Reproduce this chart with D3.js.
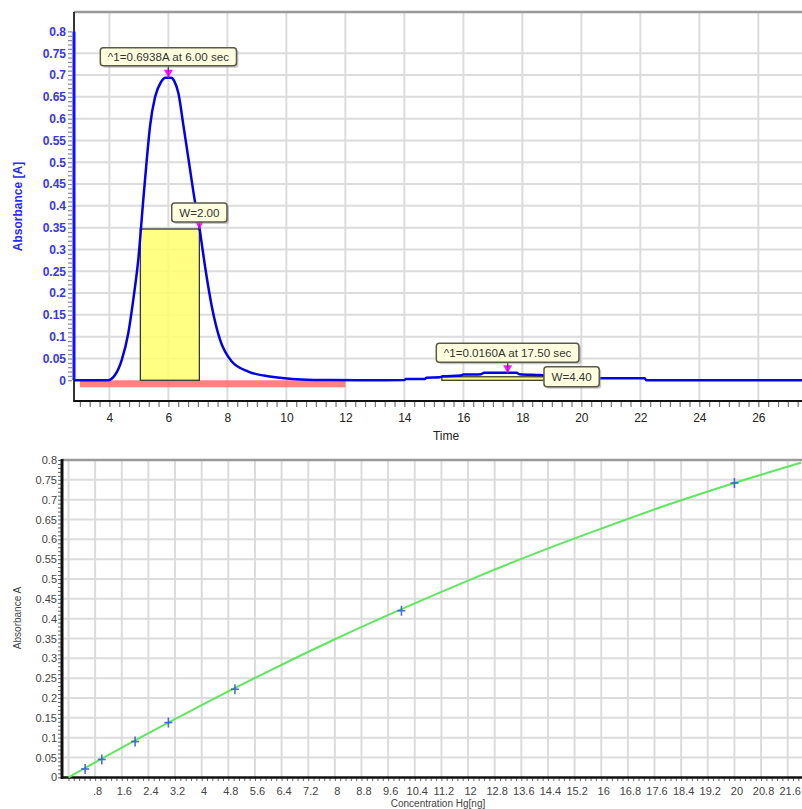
<!DOCTYPE html>
<html>
<head>
<meta charset="utf-8">
<script src="https://cdn.jsdelivr.net/npm/d3@7"></script>
<style>
  body { margin: 0; background: #fff; }
  svg { display: block; }
  text { font-family: "Liberation Sans", Arial, sans-serif; }
</style>
</head>
<body>
<svg id="chart" width="802" height="809"></svg>
<script>
// ---- Chromatogram trace (time in sec, absorbance in A) ----
const traceTime = [2.8, 3.95, 4.19, 4.42, 4.64, 4.81, 4.98, 5.15, 5.27, 5.38, 5.55, 5.75, 5.9, 6.1, 6.2,
  6.34, 6.51, 6.68, 6.85, 7.07, 7.24, 7.47, 7.75, 8.15, 8.71, 9.5, 10.5, 11.5, 13.0, 14.0, 14.05,
  14.7, 14.75, 15.2, 15.3, 15.9, 16.0, 16.6, 16.7, 17.8, 17.9, 18.6, 19.3, 20.0, 20.7, 22.15, 22.2, 27.5];
const traceAbs = [0, 0, 0.012, 0.047, 0.108, 0.185, 0.277, 0.415, 0.508, 0.584, 0.650, 0.684, 0.6938, 0.6938, 0.686,
  0.658, 0.584, 0.508, 0.431, 0.342, 0.262, 0.170, 0.093, 0.043, 0.020, 0.008, 0.002, 0.0005, 0, 0.0005, 0.003,
  0.003, 0.006, 0.007, 0.009, 0.011, 0.013, 0.014, 0.017, 0.017, 0.014, 0.012, 0.009, 0.006, 0.0045, 0.0045, 0, 0];

// Detected peaks
const peakTime = [6.00, 17.50];
const peakHeight = [0.6938, 0.0160];
const widthStart = [5.05, 15.27];
const peakWidth = [2.00, 4.40];
const baselineRange = [3, 12];

// Chromatogram tick labels
const timeTicks = [4, 6, 8, 10, 12, 14, 16, 18, 20, 22, 24, 26];
const absTicks = [0, 0.05, 0.1, 0.15, 0.2, 0.25, 0.3, 0.35, 0.4, 0.45, 0.5, 0.55, 0.6, 0.65, 0.7, 0.75, 0.8];
const absTickLabels = ["0", "0.05", "0.1", "0.15", "0.2", "0.25", "0.3", "0.35", "0.4", "0.45", "0.5",
  "0.55", "0.6", "0.65", "0.7", "0.75", "0.8"];

// ---- Calibration (concentration Hg in ng vs absorbance) ----
const stdConc = [0.5, 1, 2, 3, 5, 10, 20];
const stdAbs = [0.021, 0.045, 0.090, 0.138, 0.222, 0.420, 0.742];
const fitConc = [0, 2, 4, 6, 8, 10, 12, 14, 16, 18, 20, 22];
const fitAbs = [0, 0.093, 0.182, 0.267, 0.348, 0.424, 0.496, 0.564, 0.627, 0.687, 0.742, 0.793];

const concTicks = [0.8, 1.6, 2.4, 3.2, 4, 4.8, 5.6, 6.4, 7.2, 8, 8.8, 9.6, 10.4, 11.2, 12, 12.8, 13.6,
  14.4, 15.2, 16, 16.8, 17.6, 18.4, 19.2, 20, 20.8, 21.6];
const concTickLabels = [".8", "1.6", "2.4", "3.2", "4", "4.8", "5.6", "6.4", "7.2", "8", "8.8", "9.6",
  "10.4", "11.2", "12", "12.8", "13.6", "14.4", "15.2", "16", "16.8", "17.6", "18.4", "19.2", "20", "20.8", "21.6"];
const calAbsTicks = absTicks;
const calAbsTickLabels = absTickLabels;

const svg = d3.select("#chart");

// ================= Chromatogram =================
const xT = d3.scaleLinear().domain([2.8, 27.48]).range([74, 802]);
const yT = d3.scaleLinear().domain([-0.0475, 0.8445]).range([401, 12]);
const topG = svg.append("g");

// grid
topG.append("g").selectAll("line").data(timeTicks).join("line")
  .attr("x1", d => xT(d)).attr("x2", d => xT(d)).attr("y1", yT.range()[1]).attr("y2", yT.range()[0])
  .attr("stroke", "#dcdcdc").attr("stroke-width", 2);
topG.append("g").selectAll("line").data(absTicks.filter(d => d > 0 && d < 0.8)).join("line")
  .attr("x1", xT.range()[0]).attr("x2", xT.range()[1]).attr("y1", d => yT(d)).attr("y2", d => yT(d))
  .attr("stroke", "#dcdcdc").attr("stroke-width", 2);

// frame
topG.append("line").attr("x1", xT.range()[0]).attr("x2", xT.range()[1]).attr("y1", 12).attr("y2", 12)
  .attr("stroke", "#999").attr("stroke-width", 2.5);
topG.append("line").attr("x1", 74).attr("x2", 74).attr("y1", 12).attr("y2", 402)
  .attr("stroke", "#333").attr("stroke-width", 2);

// baseline band
topG.append("rect")
  .attr("x", xT(baselineRange[0])).attr("width", xT(baselineRange[1]) - xT(baselineRange[0]))
  .attr("y", yT(0)).attr("height", 7)
  .attr("fill", "#ff5e5e").attr("opacity", 0.78);

// width rectangles (half height)
topG.append("g").selectAll("rect").data(peakTime).join("rect")
  .attr("x", (d, i) => xT(widthStart[i]))
  .attr("width", (d, i) => xT(widthStart[i] + peakWidth[i]) - xT(widthStart[i]))
  .attr("y", (d, i) => yT(peakHeight[i] / 2))
  .attr("height", (d, i) => yT(0) - yT(peakHeight[i] / 2))
  .attr("fill", "#ffff6e").attr("fill-opacity", 0.85)
  .attr("stroke", "#3a3a2a").attr("stroke-width", 1.3);

// trace
const traceData = traceTime.map((t, i) => [t, traceAbs[i]]);
topG.append("path").datum(traceData)
  .attr("d", d3.line().x(d => xT(d[0])).y(d => yT(d[1])).curve(d3.curveMonotoneX))
  .attr("fill", "none").attr("stroke", "#0000ee").attr("stroke-width", 2.5).attr("stroke-linejoin", "round");

// left value axis
topG.append("line").attr("x1", 74).attr("x2", 74).attr("y1", yT(0)).attr("y2", yT(0.8))
  .attr("stroke", "#1010ff").attr("stroke-width", 3);
const yMinor = topG.append("g").attr("transform", "translate(72,0)")
  .call(d3.axisLeft(yT).tickValues(d3.range(0, 81).map(k => k / 100)).tickSize(4).tickFormat(""));
yMinor.select(".domain").remove();
yMinor.selectAll("line").attr("stroke", "#8a8a8a").attr("stroke-width", 1.2);
const yLab = topG.append("g").attr("transform", "translate(74,0)")
  .call(d3.axisLeft(yT).tickValues(absTicks).tickSize(0).tickPadding(8)
    .tickFormat((d, i) => absTickLabels[i]));
yLab.select(".domain").remove();
yLab.selectAll("text").attr("fill", "#3434ff").attr("font-weight", "bold")
  .attr("font-size", 12).attr("font-family", "'Liberation Sans', Arial, sans-serif");

topG.append("text").attr("transform", `translate(22,${(yT.range()[0] + yT.range()[1]) / 2}) rotate(-90)`)
  .attr("text-anchor", "middle").attr("font-size", 12).attr("font-weight", "bold").attr("fill", "#2a2aff")
  .text("Absorbance [A]");

// time axis
topG.append("line").attr("x1", 74).attr("x2", 802).attr("y1", 401).attr("y2", 401)
  .attr("stroke", "#111").attr("stroke-width", 2.2);
const xMinor = topG.append("g").attr("transform", "translate(0,402)")
  .call(d3.axisBottom(xT).tickValues(d3.range(0, 74).map(k => 3 + k / 3)).tickSize(5).tickFormat(""));
xMinor.select(".domain").remove();
xMinor.selectAll("line").attr("stroke", "#777").attr("stroke-width", 1.2);
const xLab = topG.append("g").attr("transform", "translate(0,401)")
  .call(d3.axisBottom(xT).tickValues(timeTicks).tickSize(0).tickPadding(12));
xLab.select(".domain").remove();
xLab.selectAll("text").attr("fill", "#222").attr("font-size", 12)
  .attr("font-family", "'Liberation Sans', Arial, sans-serif");
topG.append("text").attr("x", 446).attr("y", 440).attr("text-anchor", "middle")
  .attr("font-size", 12).attr("fill", "#222").text("Time");

// markers
const markerPts = [[peakTime[0], peakHeight[0]], [widthStart[0] + peakWidth[0], peakHeight[0] / 2],
  [peakTime[1], peakHeight[1]]];
const mk = topG.append("g").selectAll("g").data(markerPts).join("g")
  .attr("transform", d => `translate(${xT(d[0])},${yT(d[1])})`);
mk.append("path").attr("d", "M-4.5,-8 L4.5,-8 L0,0 Z").attr("fill", "#ff10ff");
mk.append("line").attr("x1", 0).attr("x2", 0).attr("y1", -10).attr("y2", 0)
  .attr("stroke", "#d000d0").attr("stroke-width", 1.2);

// callouts
const callouts = [
  { text: "^1=" + peakHeight[0].toFixed(4) + "A at " + peakTime[0].toFixed(2) + " sec",
    t: peakTime[0], v: peakHeight[0], gap: 12, h: 18, pointer: true },
  { text: "W=" + peakWidth[0].toFixed(2), t: widthStart[0] + peakWidth[0], v: peakHeight[0] / 2,
    gap: 7, h: 19, pointer: false },
  { text: "^1=" + peakHeight[1].toFixed(4) + "A at " + peakTime[1].toFixed(2) + " sec",
    t: peakTime[1], v: peakHeight[1], gap: 11, h: 19, pointer: true },
  { text: "W=" + peakWidth[1].toFixed(2), t: widthStart[1] + peakWidth[1], v: peakHeight[1] / 2,
    gap: -10, h: 20, pointer: false }
];
callouts.forEach(c => {
  const g = topG.append("g");
  const cx = xT(c.t), tip = yT(c.v);
  const bottom = tip - c.gap, y0 = bottom - c.h;
  const txt = g.append("text").attr("x", cx).attr("y", y0 + c.h / 2 + 4).attr("text-anchor", "middle")
    .attr("font-size", 11.6).attr("fill", "#333").text(c.text);
  const w = txt.node().getComputedTextLength() + 15;
  if (c.pointer) {
    g.insert("line", "text").attr("x1", cx).attr("x2", cx).attr("y1", bottom).attr("y2", tip - 6)
      .attr("stroke", "#444").attr("stroke-width", 1.2);
  }
  g.insert("rect", "text").attr("x", cx - w / 2 + 2).attr("y", y0 + 2).attr("width", w).attr("height", c.h)
    .attr("rx", 3).attr("fill", "#888").attr("opacity", 0.45);
  g.insert("rect", "text").attr("x", cx - w / 2).attr("y", y0).attr("width", w).attr("height", c.h)
    .attr("rx", 3).attr("fill", "#ffffe0").attr("stroke", "#5a5a4a").attr("stroke-width", 1.5);
});

// ================= Calibration curve =================
const xB = d3.scaleLinear().domain([-0.195, 22.03]).range([62, 802]);
const yB = d3.scaleLinear().domain([0, 0.8]).range([777.3, 460]);
const botG = svg.append("g");

botG.append("g").selectAll("line").data([0].concat(concTicks)).join("line")
  .attr("x1", d => xB(d)).attr("x2", d => xB(d)).attr("y1", 460).attr("y2", 777)
  .attr("stroke", "#dcdcdc").attr("stroke-width", 2);
botG.append("g").selectAll("line").data(calAbsTicks.filter(d => d > 0 && d < 0.8)).join("line")
  .attr("x1", 62).attr("x2", 802).attr("y1", d => yB(d)).attr("y2", d => yB(d))
  .attr("stroke", "#dcdcdc").attr("stroke-width", 2);

botG.append("line").attr("x1", 62).attr("x2", 802).attr("y1", 460).attr("y2", 460)
  .attr("stroke", "#9a9a9a").attr("stroke-width", 2.5);

// minor ticks
const byMinor = botG.append("g").attr("transform", "translate(61,0)")
  .call(d3.axisLeft(yB).tickValues(d3.range(0, 81).map(k => k / 100)).tickSize(3).tickFormat(""));
byMinor.select(".domain").remove();
byMinor.selectAll("line").attr("stroke", "#666");
const bxMinor = botG.append("g").attr("transform", "translate(0,778)")
  .call(d3.axisBottom(xB).tickValues(d3.range(0, 138).map(k => k * 0.16)).tickSize(3).tickFormat(""));
bxMinor.select(".domain").remove();
bxMinor.selectAll("line").attr("stroke", "#666");

// axis lines
botG.append("line").attr("x1", 62).attr("x2", 62).attr("y1", 459).attr("y2", 779)
  .attr("stroke", "#111").attr("stroke-width", 3);
botG.append("line").attr("x1", 61).attr("x2", 802).attr("y1", 777.5).attr("y2", 777.5)
  .attr("stroke", "#111").attr("stroke-width", 2.5);

const byLab = botG.append("g").attr("transform", "translate(60,0)")
  .call(d3.axisLeft(yB).tickValues(calAbsTicks).tickSize(0).tickPadding(3)
    .tickFormat((d, i) => calAbsTickLabels[i]));
byLab.select(".domain").remove();
byLab.selectAll("text").attr("fill", "#444").attr("font-size", 11)
  .attr("font-family", "'Liberation Sans', Arial, sans-serif");
const bxLab = botG.append("g").attr("transform", "translate(2,777)")
  .call(d3.axisBottom(xB).tickValues(concTicks).tickSize(0).tickPadding(10)
    .tickFormat((d, i) => concTickLabels[i]));
bxLab.select(".domain").remove();
bxLab.selectAll("text").attr("fill", "#444").attr("font-size", 11)
  .attr("font-family", "'Liberation Sans', Arial, sans-serif");

botG.append("text").attr("transform", "translate(21,618) rotate(-90)").attr("text-anchor", "middle")
  .attr("font-size", 10).attr("fill", "#444").text("Absorbance A");
botG.append("text").attr("x", 438).attr("y", 807).attr("text-anchor", "middle")
  .attr("font-size", 10).attr("fill", "#444").text("Concentration Hg[ng]");

// fitted curve
botG.append("path").datum(fitConc.map((c, i) => [c, fitAbs[i]]))
  .attr("d", d3.line().x(d => xB(d[0])).y(d => yB(d[1])).curve(d3.curveMonotoneX))
  .attr("fill", "none").attr("stroke", "#5ee85e").attr("stroke-width", 2);

// standards
const pts = botG.append("g").selectAll("g").data(stdConc).join("g")
  .attr("transform", (d, i) => `translate(${xB(d)},${yB(stdAbs[i])})`)
  .attr("stroke", "#3050e8").attr("stroke-width", 1.6).attr("opacity", 0.85);
pts.append("line").attr("x1", -4).attr("x2", 4).attr("y1", 0).attr("y2", 0);
pts.append("line").attr("x1", 0).attr("x2", 0).attr("y1", -5).attr("y2", 5);
</script>
</body>
</html>
